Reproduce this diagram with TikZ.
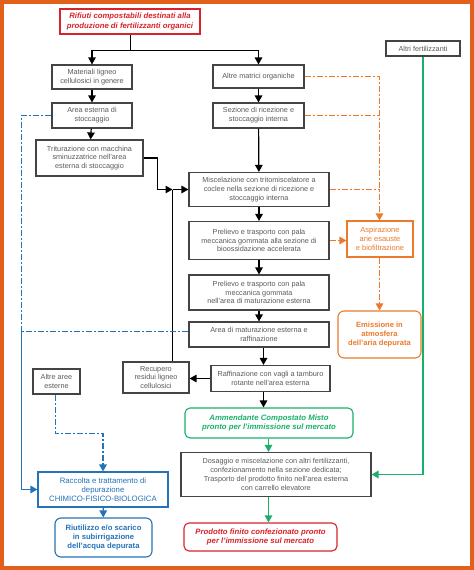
\documentclass[tikz,border=0pt]{standalone}
\usepackage{fontspec}
\setmainfont{Liberation Sans}
\usetikzlibrary{arrows.meta,calc}
\definecolor{frameor}{HTML}{E2611A}
\definecolor{txtgray}{HTML}{5A5A5A}
\definecolor{boxgray}{HTML}{444444}
\definecolor{myred}{HTML}{D8232A}
\definecolor{mygreen}{HTML}{1BB06A}
\definecolor{myblue}{HTML}{2472B8}
\definecolor{myorange}{HTML}{EC7A2A}
\tikzset{
  gbox/.style={draw=boxgray, line width=1.1bp, align=center, text=txtgray, inner sep=0pt,
     font=\fontsize{7.3}{8.8}\selectfont},
  arr/.style={line width=1.2bp, -{Triangle[length=7bp,width=7.5bp]}},
  ln/.style={line width=1.2bp},
  garr/.style={draw=mygreen, line width=1.3bp, -{Triangle[length=7bp,width=7.5bp]}},
  dashdot/.style={dash pattern=on 6bp off 2bp on 2bp off 2bp, line width=1.6bp},
  oline/.style={draw=myorange, dashdot},
  barr/.style={draw=myblue, line width=1.3bp, -{Triangle[length=7bp,width=7.5bp]}},
  bline/.style={draw=myblue, dashdot},
  ahead/.style={-{Triangle[length=7bp,width=7.5bp]}},
  boldit/.style={font=\fontsize{7.8}{9.4}\selectfont\bfseries\itshape},
}
\begin{document}
\begin{tikzpicture}[x=1bp,y=-1bp]
\useasboundingbox (0,0) rectangle (474,570);
\fill[white] (0,0) rectangle (474,570);
\draw[frameor, line width=4bp] (2,2) rectangle (472,568);

% nodes
\node[gbox, draw=myred, text=myred, minimum width=140bp, minimum height=25bp, boldit] (top) at (130,21.5)
  {Rifiuti compostabili destinati alla\\produzione di fertilizzanti organici};
\node[gbox, minimum width=80bp, minimum height=24bp] (mat) at (92,77) {Materiali ligneo\\cellulosici in genere};
\node[gbox, minimum width=80bp, minimum height=25bp] (aes) at (92,115.5) {Area esterna di\\stoccaggio};
\node[gbox, minimum width=107bp, minimum height=36bp] (trit) at (89.5,158) {Triturazione con macchina\\sminuzzatrice nell'area\\esterna di stoccaggio};
\node[gbox, minimum width=91bp, minimum height=23bp] (alt) at (258.5,76.5) {Altre matrici organiche};
\node[gbox, minimum width=91bp, minimum height=25bp] (sez) at (258.5,115.5) {Sezione di ricezione e\\stoccaggio interna};
\node[gbox, minimum width=140bp, minimum height=34bp] (misc) at (259,189.5) {Miscelazione con tritomiscelatore a\\coclee nella sezione di ricezione e\\stoccaggio interna};
\node[gbox, minimum width=140bp, minimum height=38bp] (pre1) at (259,240.5) {Prelievo e trasporto con pala\\meccanica gommata alla sezione di\\bioossidazione accelerata};
\node[gbox, minimum width=140bp, minimum height=35bp] (pre2) at (259,292.5) {Prelievo e trasporto con pala\\meccanica gommata\\nell'area di maturazione esterna};
\node[gbox, minimum width=140bp, minimum height=25bp] (amat) at (259,334.5) {Area di maturazione esterna e\\raffinazione};
\node[gbox, minimum width=119bp, minimum height=26bp] (raff) at (270.5,378.5) {Raffinazione con vagli a tamburo\\rotante nell'area esterna};
\node[gbox, minimum width=66bp, minimum height=31bp] (rec) at (156,377.5) {Recupero\\residui ligneo\\cellulosici};
\node[gbox, draw=mygreen, text=mygreen, rounded corners=5bp, minimum width=168bp, minimum height=30bp, boldit] (amm) at (269,423)
  {Ammendante Compostato Misto\\pronto per l'immissione sul mercato};
\node[gbox, minimum width=190bp, minimum height=44bp] (dos) at (276,474.5) {Dosaggio e miscelazione con altri fertilizzanti,\\confezionamento nella sezione dedicata;\\Trasporto del prodotto finito nell'area esterna\\con carrello elevatore};
\node[gbox, draw=myred, text=myred, rounded corners=5bp, minimum width=153bp, minimum height=28bp, boldit] (prod) at (260.5,537)
  {Prodotto finito confezionato pronto\\per l'immissione sul mercato};
\node[gbox, minimum width=74bp, minimum height=15bp] (altf) at (423,48.5) {Altri fertilizzanti};
\node[gbox, draw=myorange, text=myorange, minimum width=66bp, minimum height=36bp,
  font=\fontsize{7.5}{9}\selectfont] (asp) at (380,239) {Aspirazione\\arie esauste\\e biofiltrazione};
\node[gbox, draw=myorange, text=myorange, rounded corners=6bp, minimum width=83bp, minimum height=47bp,
  font=\fontsize{7.6}{9}\selectfont\bfseries] (emi) at (379.5,334.5) {Emissione in\\atmosfera\\dell'aria depurata};
\node[gbox, minimum width=47bp, minimum height=25bp] (altae) at (56.5,381.5) {Altre aree\\esterne};
\node[gbox, draw=myblue, text=myblue, minimum width=130bp, minimum height=35bp,
  font=\fontsize{7.8}{9}\selectfont] (racc) at (103,489.5) {Raccolta e trattamento di\\depurazione\\CHIMICO-FISICO-BIOLOGICA};
\node[gbox, draw=myblue, text=myblue, rounded corners=6bp, minimum width=97bp, minimum height=39bp,
  font=\fontsize{7.7}{9.2}\selectfont\bfseries] (riu) at (103.5,537.5) {Riutilizzo e/o scarico\\in subirrigazione\\dell'acqua depurata};

% coordinates
\coordinate (j) at (130.5,50.5);
\coordinate (cJ) at (172.5,189.5);
\coordinate (bl) at (21.5,331.5);
\coordinate (ox) at (379.5,0);
\coordinate (ab) at (55.5,433.5);

% black flow
\draw[ln] (top.south -| j) -- (j);
\draw[arr] (j) -| (mat.north);
\draw[arr] (j) -| (alt.north);
\draw[arr] (mat) -- (aes);
\draw[arr] (aes) -- (trit);
\draw[arr] (alt) -- (sez);
\draw[arr] (sez) -- (misc);
\draw[arr] (trit.east) -- ++(14,0) |- (cJ);
\draw[ln] (rec.north -| cJ) -- (cJ);
\draw[arr] (cJ) -- (misc.west);
\draw[arr] (misc) -- (pre1);
\draw[arr] (pre1) -- (pre2);
\draw[arr] (pre2) -- (amat);
\draw[arr] (amat.south -| 263.5,0) -- (raff.north -| 263.5,0);
\draw[arr] (raff.west) -- (rec.east |- raff.west);
\draw[arr] (raff.south -| 263.5,0) -- (amm.north -| 263.5,0);

% green flow
\draw[garr] (amm.south -| 268.5,0) -- (dos.north -| 268.5,0);
\draw[garr] (dos.south -| 268.5,0) -- (prod.north -| 268.5,0);
\draw[garr] (altf.south) |- (dos.east);

% orange
\draw[oline, ahead] (alt.east) -| (asp.north -| ox);
\draw[oline] (sez.east) -- (sez.east -| ox);
\draw[oline] (misc.east) -- (misc.east -| ox);
\draw[oline, ahead] (pre1.east) -- (asp.west |- pre1.east);
\draw[oline, ahead] (asp.south -| ox) -- (emi.north -| ox);

% blue
\draw[bline] (aes.west) -| (bl);
\draw[bline] (amat.west |- bl) -- (bl);
\draw[barr] (bl) |- (racc.west);
\draw[bline, ahead] (altae.south -| ab) -- (ab) -| (racc.north);
\draw[barr] (racc) -- (riu);
\end{tikzpicture}
\end{document}
